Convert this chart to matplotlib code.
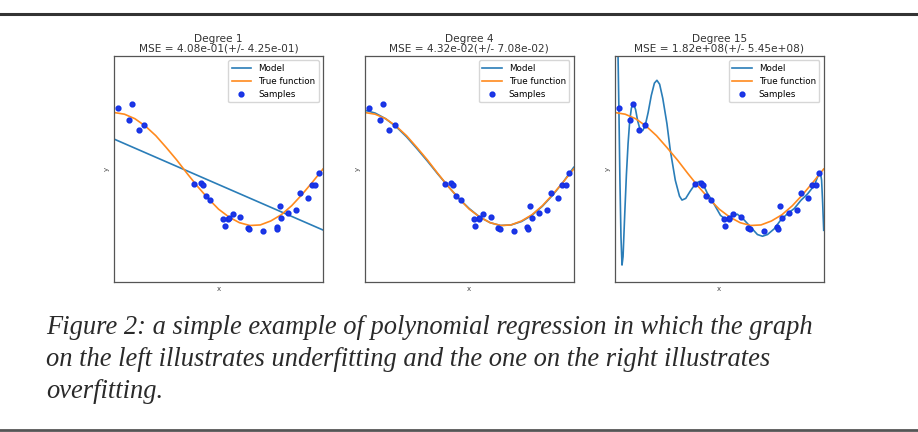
import numpy as np
import matplotlib
matplotlib.use("Agg")
import matplotlib.pyplot as plt
from matplotlib.lines import Line2D

# sample points
sample_x = [0.020, 0.071, 0.087, 0.118, 0.143, 0.383, 0.415, 0.424, 0.438, 0.461,
            0.522, 0.529, 0.545, 0.549, 0.568, 0.603, 0.640, 0.646, 0.715, 0.778,
            0.781, 0.792, 0.799, 0.833, 0.870, 0.892, 0.926, 0.945, 0.964, 0.979]
sample_y = [1.08, 0.86, 1.15, 0.69, 0.78, -0.27, -0.24, -0.28, -0.47, -0.54,
            -0.88, -1.01, -0.88, -0.86, -0.79, -0.85, -1.05, -1.06, -1.09, -1.03,
            -1.07, -0.66, -0.87, -0.77, -0.72, -0.42, -0.51, -0.29, -0.29, -0.07]

# true function
true_x = [0.0, 0.05, 0.10, 0.15, 0.20, 0.25, 0.30, 0.35, 0.40, 0.45, 0.50,
          0.55, 0.60, 0.65, 0.70, 0.75, 0.80, 0.85, 0.90, 0.95, 1.0]
true_y = [1.0, 0.97, 0.89, 0.76, 0.59, 0.38, 0.16, -0.08, -0.31, -0.52, -0.71,
          -0.85, -0.95, -1.0, -0.99, -0.92, -0.81, -0.65, -0.45, -0.23, 0.0]

# degree 1 model
deg1_x = [0.0, 1.0]
deg1_y = [0.53, -1.08]

# degree 4 model
deg4_x = true_x
deg4_y = [1.04, 0.99, 0.89, 0.75, 0.57, 0.36, 0.14, -0.09, -0.31, -0.52, -0.70,
          -0.85, -0.95, -1.0, -0.99, -0.93, -0.82, -0.66, -0.46, -0.23, 0.03]

# degree 15 model
deg15_x = [0.0, 0.010, 0.016, 0.020, 0.025, 0.030, 0.035, 0.040, 0.048, 0.056,
           0.064, 0.072, 0.080, 0.090, 0.100, 0.110, 0.122, 0.134, 0.146, 0.160,
           0.175, 0.190, 0.202, 0.215, 0.230, 0.250, 0.266, 0.290, 0.310, 0.322,
           0.340, 0.360, 0.386, 0.405, 0.418, 0.442, 0.466, 0.506, 0.530, 0.562,
           0.587, 0.619, 0.651, 0.683, 0.707, 0.731, 0.763, 0.795, 0.827, 0.859,
           0.891, 0.923, 0.955, 0.975, 0.985, 0.990, 0.995, 1.0]
deg15_y = [5.0, 3.0, 2.0, 1.08, -0.2, -1.2, -1.70, -1.55, -0.8, -0.1,
           0.45, 0.86, 1.08, 1.16, 1.05, 0.85, 0.69, 0.68, 0.77, 1.0,
           1.3, 1.52, 1.57, 1.50, 1.25, 0.80, 0.33, -0.20, -0.48, -0.55,
           -0.52, -0.40, -0.26, -0.22, -0.23, -0.42, -0.56, -0.82, -0.89, -0.83,
           -0.80, -0.90, -1.03, -1.16, -1.19, -1.16, -1.06, -0.90, -0.79, -0.70,
           -0.555, -0.44, -0.29, -0.10, -0.08, -0.20, -0.60, -1.085]

titles = ["Degree 1\nMSE = 4.08e-01(+/- 4.25e-01)",
          "Degree 4\nMSE = 4.32e-02(+/- 7.08e-02)",
          "Degree 15\nMSE = 1.82e+08(+/- 5.45e+08)"]
models = [(deg1_x, deg1_y), (deg4_x, deg4_y), (deg15_x, deg15_y)]

caption = ["Figure 2: a simple example of polynomial regression in which the graph",
           "on the left illustrates underfitting and the one on the right illustrates",
           "overfitting."]

W, H = 918, 432
fig = plt.figure(figsize=(W / 100, H / 100), dpi=100)

lefts = [114, 364.7, 614.7]
for i, (left, (mx, my)) in enumerate(zip(lefts, models)):
    ax = fig.add_axes([left / W, (H - 282) / H, 209 / W, 226 / H])
    ax.plot(mx, my, color='#2a7db8', lw=1.2, label="Model")
    ax.plot(true_x, true_y, color='#ff8a1e', lw=1.2, label="True function")
    ax.scatter(sample_x, sample_y, color='#2236e0', edgecolor='#1030e8', s=12, label="Samples", zorder=3)
    ax.set_xlim(0, 1)
    ax.set_ylim(-2, 2)
    ax.set_xticks([])
    ax.set_yticks([])
    for sp in ax.spines.values():
        sp.set_color('#555555')
        sp.set_linewidth(0.9)
    ax.set_xlabel("x", fontsize=5, color='#444444', labelpad=3)
    ax.set_ylabel("y", fontsize=5, color='#444444', labelpad=3)
    ax.set_title(titles[i], fontsize=7.6, color='#333333', linespacing=0.95, pad=3)
    ax.legend(loc='upper right', fontsize=6.3, labelspacing=0.45, handlelength=2.2,
              borderpad=0.4, framealpha=0.8, edgecolor='#cccccc')

# rules above and below
fig.add_artist(Line2D([0, 1], [1 - 14 / H, 1 - 14 / H], color='#333333', lw=2.2))
fig.add_artist(Line2D([0, 1], [1 - 429.5 / H, 1 - 429.5 / H], color='#555555', lw=2.0))

baselines = [334, 366, 398]
for line, b in zip(caption, baselines):
    fig.text(46 / W, 1 - b / H, line, family=['Liberation Serif'], style='italic',
             fontsize=19.1, color='#2a2a2a', va='baseline', ha='left')

fig.savefig("out.png", dpi=100)
